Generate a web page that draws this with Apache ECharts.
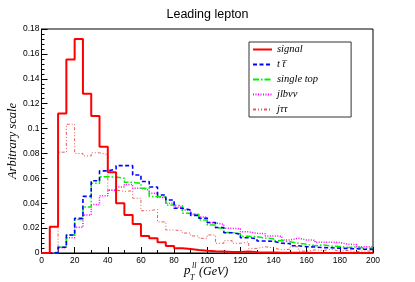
<!DOCTYPE html>
<html>
<head>
<meta charset="utf-8">
<script src="https://cdn.jsdelivr.net/npm/echarts@6/dist/echarts.min.js"></script>
<style>
html,body{margin:0;padding:0;background:#fff;}
#chart{width:415px;height:282px;}
</style>
</head>
<body>
<div id="chart"></div>
<script>
// Histogram: 40 bins of 5 GeV from 0 to 200
var binWidth = 5;
var xTicks = [0, 20, 40, 60, 80, 100, 120, 140, 160, 180, 200];
var yTicks = [0, 0.02, 0.04, 0.06, 0.08, 0.1, 0.12, 0.14, 0.16, 0.18];
var seriesNames = ['signal', 't t\u0305', 'single top', 'jlb\u03bd\u03bd', 'j\u03c4\u03c4'];

var signal = [0, 0.021, 0.112, 0.1555, 0.172, 0.128, 0.110, 0.0854, 0.0648, 0.040,
  0.0305, 0.0233, 0.0137, 0.0118, 0.0086, 0.0056, 0.0038, 0.0033, 0.0024, 0.0018,
  0.0014, 0.0012, 0.0009, 0.0009, 0.0013, 0.0007, 0.0005, 0.0004, 0.0003, 0.0003,
  0.0002, 0.0002, 0.0001, 0.0001, 0.0001, 0, 0, 0, 0, 0];
var ttbar = [0, 0.0003, 0.0046, 0.0145, 0.0279, 0.0455, 0.058, 0.066, 0.0675, 0.0702,
  0.0702, 0.0627, 0.0575, 0.053, 0.0466, 0.0426, 0.036, 0.0345, 0.0302, 0.0279,
  0.0245, 0.0205, 0.0163, 0.015, 0.0122, 0.0115, 0.0096, 0.0094, 0.0078, 0.0076,
  0.0058, 0.0051, 0.0048, 0.0043, 0.0042, 0.0038, 0.0036, 0.0034, 0.003, 0.0029];
var singleTop = [0, 0.0003, 0.0046, 0.0145, 0.027, 0.037, 0.056, 0.0613, 0.061, 0.060,
  0.0568, 0.056, 0.052, 0.0455, 0.045, 0.0386, 0.038, 0.032, 0.031, 0.0265,
  0.0225, 0.020, 0.0165, 0.0155, 0.0135, 0.0131, 0.012, 0.0115, 0.0098, 0.0091,
  0.0078, 0.007, 0.0058, 0.0065, 0.0055, 0.0052, 0.0045, 0.0048, 0.004, 0.0038];
var jlbvv = [0, 0.0003, 0.0042, 0.0123, 0.0206, 0.0305, 0.039, 0.046, 0.0505, 0.053,
  0.055, 0.052, 0.0505, 0.048, 0.0445, 0.040, 0.037, 0.0345, 0.031, 0.029,
  0.0244, 0.023, 0.0198, 0.0195, 0.017, 0.0158, 0.0155, 0.0137, 0.0135, 0.0105,
  0.0118, 0.0105, 0.0103, 0.0086, 0.0086, 0.0085, 0.007, 0.0068, 0.005, 0.0049];
var jtautau = [0, 0, 0.081, 0.1035, 0.080, 0.078, 0.0805, 0.079, 0.0505, 0.0495,
  0.050, 0.044, 0.034, 0.035, 0.025, 0.0185, 0.018, 0.016, 0.0137, 0.0118,
  0.0145, 0.0078, 0.0099, 0.0078, 0.0089, 0.0037, 0.005, 0.004, 0.0025, 0.003,
  0.005, 0.0015, 0.0025, 0.002, 0.003, 0.0015, 0.002, 0.001, 0.0018, 0.0012];

function stepData(vals) {
  var d = [];
  for (var i = 0; i < vals.length; i++) d.push([i * binWidth, vals[i]]);
  d.push([vals.length * binWidth, vals[vals.length - 1]]);
  return d;
}

var serif = "'Liberation Serif','DejaVu Serif',serif";
var sans = "'Liberation Sans','DejaVu Sans',sans-serif";

function mkSeries(name, vals, color, width, type, z) {
  return {
    name: name, type: 'line', step: 'end', data: stepData(vals),
    showSymbol: false, symbol: 'none', z: z, animation: false,
    lineStyle: { color: color, width: width, type: type },
    itemStyle: { color: color }
  };
}

var chart = echarts.init(document.getElementById('chart'), null, { renderer: 'canvas' });
chart.setOption({
  animation: false,
  backgroundColor: '#fff',
  title: {
    text: 'Leading lepton', left: 'center', top: 3,
    textStyle: { fontFamily: sans, fontSize: 12.5, fontWeight: 'normal', color: '#000' }
  },
  grid: { left: 41.5, right: 42, top: 29, bottom: 29, containLabel: false, outerBoundsMode: 'none',
    show: true, borderColor: '#000', borderWidth: 1, backgroundColor: 'transparent' },
  legend: {
    orient: 'vertical', left: 249, top: 42,
    data: seriesNames,
    backgroundColor: '#fff', borderColor: '#333', borderWidth: 1,
    padding: [2, 33, 2, 3], itemGap: 4, itemWidth: 19, itemHeight: 10,
    itemStyle: { opacity: 0 },
    textStyle: { fontFamily: serif, fontStyle: 'italic', fontSize: 10.5, color: '#000', lineHeight: 10 }
  },
  xAxis: {
    type: 'value', min: xTicks[0], max: xTicks[xTicks.length - 1], interval: xTicks[1] - xTicks[0],
    axisLine: { lineStyle: { color: '#000', width: 1 } },
    axisTick: { inside: true, length: 6, lineStyle: { color: '#000' } },
    minorTick: { show: true, splitNumber: 2, length: 3, lineStyle: { color: '#000' } },
    splitLine: { show: false },
    axisLabel: { fontFamily: sans, fontSize: 8.5, color: '#000', margin: 3 }
  },
  yAxis: {
    type: 'value', min: yTicks[0], max: yTicks[yTicks.length - 1], interval: yTicks[1] - yTicks[0],
    name: 'Arbitrary scale', nameLocation: 'middle', nameGap: 22, nameMoveOverlap: false,
    nameTextStyle: { fontFamily: serif, fontStyle: 'italic', fontSize: 12.5, color: '#000' },
    axisLine: { show: true, lineStyle: { color: '#000', width: 1 } },
    axisTick: { inside: true, length: 6, lineStyle: { color: '#000' } },
    minorTick: { show: true, splitNumber: 5, length: 3, lineStyle: { color: '#000' } },
    splitLine: { show: false },
    axisLabel: { fontFamily: sans, fontSize: 8.5, color: '#000', margin: 2,
      formatter: function (v) { return String(+v.toFixed(2)); } }
  },
  graphic: [
    { type: 'text', left: 184, top: 264, style: { text: 'p', font: 'italic 13px ' + serif, fill: '#000' } },
    { type: 'text', left: 192, top: 262, style: { text: 'll', font: 'italic 8px ' + serif, fill: '#000' } },
    { type: 'text', left: 190, top: 274, style: { text: 'T', font: 'italic 8px ' + serif, fill: '#000' } },
    { type: 'text', left: 199, top: 266, style: { text: '(GeV)', font: 'italic 12px ' + serif, fill: '#000' } }
  ],
  series: [
    mkSeries(seriesNames[4], jtautau, '#e85a5a', 1, [3, 2, 1, 2, 1, 2], 2),
    mkSeries(seriesNames[3], jlbvv, '#ff00ff', 1.5, [1, 1.5], 3),
    mkSeries(seriesNames[2], singleTop, '#00ee00', 1.5, [6, 2, 1.5, 2], 4),
    mkSeries(seriesNames[1], ttbar, '#0000ff', 1.6, [4, 2.5], 5),
    mkSeries(seriesNames[0], signal, '#ff0000', 2, 'solid', 6)
  ]
});
</script>
</body>
</html>
